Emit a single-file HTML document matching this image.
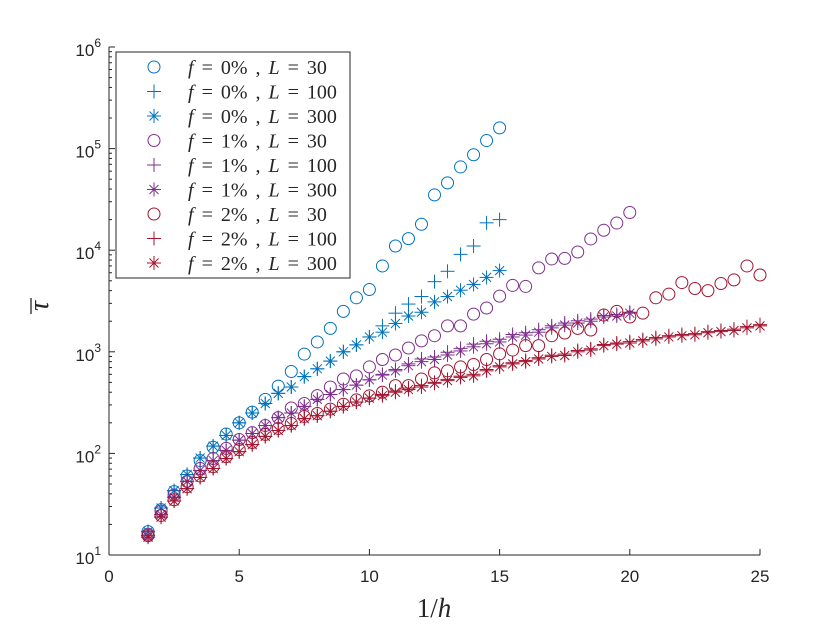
<!DOCTYPE html>
<html><head><meta charset="utf-8"><style>
body{margin:0;background:#fff}
svg{display:block}
.sans{font-family:"Liberation Sans",sans-serif}
.serif{font-family:"Liberation Serif",serif}
</style></head><body>
<svg id="chart" width="840" height="630" viewBox="0 0 840 630"></svg>
<script>
const xs15=[1.5,2,2.5,3,3.5,4,4.5,5,5.5,6,6.5,7,7.5,8,8.5,9,9.5,10,10.5,11,11.5,12,12.5,13,13.5,14,14.5,15];
const f0L30=[17,28,42,60,85,115,155,200,255,340,460,640,950,1250,1700,2500,3400,4100,7000,11000,13000,18000,35000,46000,66000,87000,120000,160000];
const f0L300=[17,29,43,62,90,118,150,200,250,310,390,450,570,680,810,1000,1170,1400,1560,1900,2250,2450,3100,3500,4040,4600,5400,6300];
const f0L100=[17,29,43,62,90,118,150,200,250,310,390,450,570,680,810,1000,1170,1400,1800,2400,2950,3500,4900,6200,9100,11000,18600,20000];
const xs20=[1.5,2,2.5,3,3.5,4,4.5,5,5.5,6,6.5,7,7.5,8,8.5,9,9.5,10,10.5,11,11.5,12,12.5,13,13.5,14,14.5,15,15.5,16,16.5,17,17.5,18,18.5,19,19.5,20];
const f1L30=[16,27,39,53,71,89,112,137,160,188,225,280,310,370,450,540,580,710,840,930,1090,1280,1440,1800,1800,2350,2700,3530,4500,4400,6700,8200,8300,9600,12900,15700,18500,23500];
const f1L300=[15.6,25,37,53,68,85,107,135,157,188,225,250,290,340,380,425,470,530,590,650,730,800,840,930,1020,1120,1200,1250,1400,1460,1560,1720,1830,1920,2000,2200,2250,2400];
const f1L100=[15.6,25,37,53,68,85,107,135,157,188,225,250,290,340,380,425,470,530,600,670,760,850,890,990,1080,1190,1270,1330,1480,1540,1650,1800,1920,2020,2100,2280,2330,2450];
const xs25=[1.5,2,2.5,3,3.5,4,4.5,5,5.5,6,6.5,7,7.5,8,8.5,9,9.5,10,10.5,11,11.5,12,12.5,13,13.5,14,14.5,15,15.5,16,16.5,17,17.5,18,18.5,19,19.5,20,20.5,21,21.5,22,22.5,23,23.5,24,24.5,25];
const f2L30=[15.5,24.5,35,47,60,74,93,109,128,154,176,197,231,247,273,305,336,368,400,465,465,540,620,650,710,750,840,955,1040,1150,1150,1440,1530,1700,1640,2300,2500,2200,2400,3400,3700,4800,4200,4000,4700,5100,7000,5700];
const f2L300=[15,23.6,34,45,58,71,89,104,122,147,168,188,220,235,260,290,320,350,370,400,425,450,490,520,560,580,650,710,760,800,850,900,920,1000,1040,1150,1190,1220,1280,1340,1400,1440,1470,1540,1580,1620,1720,1800];
const f2L100=[15,23.6,34,45,58,71,89,104,122,147,168,188,220,235,260,290,320,350,380,410,440,465,500,535,575,600,670,730,780,820,875,925,950,1030,1070,1180,1220,1260,1320,1380,1440,1480,1510,1580,1620,1670,1770,1850];
const xTicks=[0,5,10,15,20,25];
const yExps=[1,2,3,4,5,6];

const NS="http://www.w3.org/2000/svg";
const svg=document.getElementById('chart');
const L=109,R=760,T=47,B=555;
const X=v=>L+(v-0)/(25-0)*(R-L);
const Y=v=>B-(Math.log10(v)-1)/5*(B-T);
function mk(tag,attrs,parent){const e=document.createElementNS(NS,tag);for(const k in attrs)e.setAttribute(k,attrs[k]);(parent||svg).appendChild(e);return e;}

const ax=mk('g',{});


mk('line',{x1:L,y1:T,x2:L,y2:B,stroke:'#262626','stroke-width':1},ax);
mk('line',{x1:L,y1:B,x2:R,y2:B,stroke:'#262626','stroke-width':1},ax);
xTicks.forEach(t=>{
  mk('line',{x1:X(t),y1:B,x2:X(t),y2:B-6,stroke:'#262626'},ax);
  const tx=mk('text',{x:X(t),y:B+27,'text-anchor':'middle','font-size':17,fill:'#262626',class:'sans'},ax);
  tx.textContent=t;
  
  
});
yExps.forEach(e=>{
  const y=Y(Math.pow(10,e));
  mk('line',{x1:L,y1:y,x2:L+6,y2:y,stroke:'#262626'},ax);
  if(e<6)for(let m=2;m<=9;m++){const ym=Y(m*Math.pow(10,e));mk('line',{x1:L,y1:ym,x2:L+3,y2:ym,stroke:'#262626'},ax);}
  const tx=mk('text',{x:L-8,y:y+9,'text-anchor':'end','font-size':17,fill:'#262626',class:'sans'},ax);
  tx.innerHTML='10<tspan dy="-9" font-size="12">'+e+'</tspan>';
  
  
});
const xl=mk('text',{x:434,y:617,'text-anchor':'middle','font-size':27,fill:'#262626',class:'serif'});
xl.innerHTML='1/<tspan font-style="italic">h</tspan>';


const yl=mk('g',{});


const ylt=mk('text',{x:48,y:306,'text-anchor':'middle','font-size':28,'font-style':'italic',fill:'#262626',class:'serif',transform:'rotate(-90 48 306)'},yl);
ylt.textContent='τ';
mk('line',{x1:31,y1:298,x2:31,y2:314,stroke:'#262626','stroke-width':1.3},yl);

function marker(g,type,cx,cy,c){
  const r=6;
  if(type==='o')mk('circle',{cx,cy,r,fill:'none',stroke:c,'stroke-width':1},g);
  if(type==='+'||type==='*'){
    mk('line',{x1:cx-r-1,y1:cy,x2:cx+r+1,y2:cy,stroke:c,'stroke-width':1},g);
    mk('line',{x1:cx,y1:cy-r-1,x2:cx,y2:cy+r+1,stroke:c,'stroke-width':1},g);
  }
  if(type==='*'){
    const d=r*0.75;
    mk('line',{x1:cx-d,y1:cy-d,x2:cx+d,y2:cy+d,stroke:c,'stroke-width':1},g);
    mk('line',{x1:cx-d,y1:cy+d,x2:cx+d,y2:cy-d,stroke:c,'stroke-width':1},g);
  }
}
const BL='#0072BD',PU='#7E2F8E',RD='#A2142F';
const series=[
 {n:'f0-L30',x:xs15,y:f0L30,t:'o',c:BL,f:'0',l:'30'},
 {n:'f0-L100',x:xs15,y:f0L100,t:'+',c:BL,f:'0',l:'100'},
 {n:'f0-L300',x:xs15,y:f0L300,t:'*',c:BL,f:'0',l:'300'},
 {n:'f1-L30',x:xs20,y:f1L30,t:'o',c:PU,f:'1',l:'30'},
 {n:'f1-L100',x:xs20,y:f1L100,t:'+',c:PU,f:'1',l:'100'},
 {n:'f1-L300',x:xs20,y:f1L300,t:'*',c:PU,f:'1',l:'300'},
 {n:'f2-L30',x:xs25,y:f2L30,t:'o',c:RD,f:'2',l:'30'},
 {n:'f2-L100',x:xs25,y:f2L100,t:'+',c:RD,f:'2',l:'100'},
 {n:'f2-L300',x:xs25,y:f2L300,t:'*',c:RD,f:'2',l:'300'},
];
series.forEach(s=>{
  const g=mk('g',{});
  
  
  s.x.forEach((xv,i)=>marker(g,s.t,X(xv),Y(s.y[i]),s.c));
});
const lg=mk('g',{});


mk('rect',{x:116,y:52,width:234,height:226,fill:'#fff',stroke:'#262626','stroke-width':1},lg);
series.forEach((s,i)=>{
  const y=67+i*24.5;
  const e=mk('g',{},lg);
  
  
  marker(e,s.t,154,y,s.c);
  const tx=mk('text',{x:188,y:y+7,'font-size':20,'word-spacing':'3px',fill:'#262626',class:'serif'},e);
  tx.innerHTML='<tspan font-style="italic">f</tspan> = '+s.f+'% , <tspan font-style="italic">L</tspan> = '+s.l;
});
</script>
</body></html>
